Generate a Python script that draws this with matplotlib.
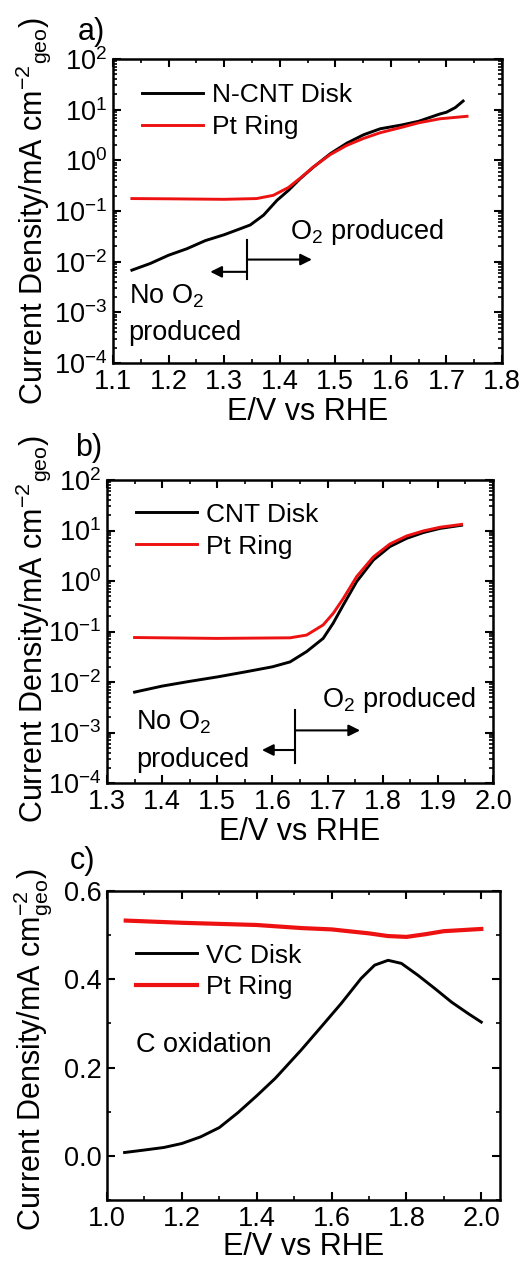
import numpy as np
import matplotlib
matplotlib.use("Agg")
import matplotlib.pyplot as plt
from matplotlib.ticker import LogLocator, NullFormatter, MultipleLocator

plt.rcParams['font.family'] = ['Liberation Sans', 'DejaVu Sans']
plt.rcParams['mathtext.fontset'] = 'custom'
plt.rcParams['mathtext.rm'] = 'Liberation Sans'
plt.rcParams['mathtext.it'] = 'Liberation Sans:italic'
plt.rcParams['mathtext.default'] = 'regular'

# panel a) N-CNT disk / Pt ring, log scale
a_disk_E = [1.134, 1.167, 1.2, 1.233, 1.266, 1.3, 1.325, 1.347, 1.371, 1.395, 1.416,
            1.437, 1.461, 1.491, 1.521, 1.551, 1.581, 1.62, 1.65, 1.688, 1.70, 1.716, 1.73]
a_disk_j = [0.0068, 0.0092, 0.0134, 0.018, 0.026, 0.034, 0.043, 0.053, 0.083, 0.162, 0.257,
            0.436, 0.74, 1.35, 2.19, 3.2, 4.2, 5.0, 5.9, 8.2, 8.9, 11.0, 14.8]
a_ring_E = [1.134, 1.2, 1.3, 1.3585, 1.3885, 1.4155, 1.4395, 1.4605, 1.4905, 1.5205,
            1.5505, 1.5805, 1.62, 1.65, 1.688, 1.737]
a_ring_j = [0.176, 0.174, 0.17, 0.176, 0.204, 0.29, 0.47, 0.74, 1.29, 1.97,
            2.7, 3.5, 4.5, 5.5, 6.6, 7.4]

# panel b) CNT disk / Pt ring, log scale
b_disk_E = [1.35, 1.4, 1.45, 1.5, 1.55, 1.6, 1.632, 1.662, 1.692, 1.710, 1.7285,
            1.7527, 1.783, 1.813, 1.8435, 1.8736, 1.904, 1.943]
b_disk_j = [0.0063, 0.0083, 0.0103, 0.0126, 0.0158, 0.020, 0.025, 0.04, 0.073, 0.145, 0.335,
            0.97, 2.6, 4.8, 7.0, 9.1, 11.0, 12.7]
b_ring_E = [1.35, 1.5, 1.632, 1.662, 1.692, 1.7104, 1.7285, 1.7527, 1.783, 1.813,
            1.8435, 1.8736, 1.904, 1.943]
b_ring_j = [0.076, 0.073, 0.075, 0.085, 0.135, 0.23, 0.45, 1.22, 3.0, 5.4,
            7.8, 9.8, 11.6, 13.2]

# panel c) VC disk / Pt ring, linear scale
c_disk_E = [1.047, 1.098, 1.152, 1.2, 1.25, 1.3, 1.35, 1.4, 1.45, 1.518, 1.572, 1.6255,
            1.679, 1.715, 1.751, 1.7866, 1.831, 1.876, 1.921, 1.9656, 2.0]
c_disk_j = [0.0076, 0.013, 0.019, 0.028, 0.043, 0.064, 0.098, 0.136, 0.176, 0.239, 0.292, 0.345,
            0.402, 0.432, 0.443, 0.436, 0.409, 0.379, 0.348, 0.322, 0.303]
c_ring_E = [1.05, 1.2, 1.4, 1.52, 1.6, 1.7, 1.75, 1.8, 1.85, 1.9, 2.0]
c_ring_j = [0.533, 0.528, 0.523, 0.516, 0.513, 0.504, 0.498, 0.496, 0.502, 0.509, 0.514]

onset_a = 1.341
onset_b = 1.641

ylab_log = r'Current Density/mA cm$^{-2}$$_{geo}$)'
ylab_lin = r'Current Density/mA cm$^{-2}_{geo}$)'

fig = plt.figure(figsize=(5.25, 12.64), dpi=100)
W, H = 525, 1264


def px_axes(l, r, t, b):
    return fig.add_axes([l / W, 1 - b / H, (r - l) / W, (b - t) / H])


def style(ax):
    ax.tick_params(which='both', direction='in', top=True, right=True, labelsize=19.5, pad=4)
    ax.tick_params(which='major', length=6, width=1.5)
    ax.tick_params(which='minor', length=3, width=1.2)
    for s in ax.spines.values():
        s.set_linewidth(1.8)


def log_style(ax):
    ax.set_yscale('log')
    ax.set_ylim(1e-4, 1e2)
    ax.yaxis.set_major_locator(LogLocator(base=10, numticks=10))
    ax.yaxis.set_minor_locator(LogLocator(base=10, subs=np.arange(2, 10), numticks=10))
    ax.yaxis.set_minor_formatter(NullFormatter())


def arrow(ax, x0, x1, y):
    ax.annotate('', xy=(x1, y), xytext=(x0, y),
                arrowprops=dict(arrowstyle='-|>', color='black', lw=1.5, mutation_scale=17,
                                shrinkA=0, shrinkB=0))


leg_kw = dict(loc='upper left', frameon=False, fontsize=19, handlelength=2.3,
              handletextpad=0.35, labelspacing=0.3, borderpad=0, borderaxespad=0)

axa = px_axes(113, 502, 59, 363)
axb = px_axes(107, 493, 480, 783)
axc = px_axes(107, 500, 891, 1200)

# ---- a)
axa.plot(a_disk_E, a_disk_j, color='black', lw=2.1, label='N-CNT Disk')
axa.plot(a_ring_E, a_ring_j, color='#ee1111', lw=2.1, label='Pt Ring')
log_style(axa)
axa.set_xlim(1.1, 1.8)
axa.xaxis.set_major_locator(MultipleLocator(0.1))
axa.xaxis.set_minor_locator(MultipleLocator(0.05))
style(axa)
axa.plot([onset_a, onset_a], [0.0045, 0.027], color='black', lw=1.5)
arrow(axa, onset_a, 1.458, 0.011)
arrow(axa, onset_a, 1.275, 0.0063)
axa.text(0.455, 0.43, r'O$_2$ produced', transform=axa.transAxes, fontsize=19.5, va='center')
axa.text(0.04, 0.22, r'No O$_2$', transform=axa.transAxes, fontsize=19.5, va='center')
axa.text(0.04, 0.10, 'produced', transform=axa.transAxes, fontsize=19.5, va='center')
axa.legend(bbox_to_anchor=(0.075, 0.92), **leg_kw)
axa.set_xlabel('E/V vs RHE', fontsize=22, labelpad=2)

# ---- b)
axb.plot(b_disk_E, b_disk_j, color='black', lw=2.1, label='CNT Disk')
axb.plot(b_ring_E, b_ring_j, color='#ee1111', lw=2.1, label='Pt Ring')
log_style(axb)
axb.set_xlim(1.3, 2.0)
axb.xaxis.set_major_locator(MultipleLocator(0.1))
axb.xaxis.set_minor_locator(MultipleLocator(0.05))
style(axb)
axb.plot([onset_b, onset_b], [0.00025, 0.0028], color='black', lw=1.5)
arrow(axb, onset_b, 1.759, 0.0011)
arrow(axb, onset_b, 1.581, 0.00045)
axb.text(0.558, 0.275, r'O$_2$ produced', transform=axb.transAxes, fontsize=19.5, va='center')
axb.text(0.075, 0.2, r'No O$_2$', transform=axb.transAxes, fontsize=19.5, va='center')
axb.text(0.075, 0.075, 'produced', transform=axb.transAxes, fontsize=19.5, va='center')
axb.legend(bbox_to_anchor=(0.075, 0.925), **leg_kw)
axb.set_xlabel('E/V vs RHE', fontsize=22, labelpad=2)

# ---- c)
axc.plot(c_disk_E, c_disk_j, color='black', lw=2.1, label='VC Disk')
axc.plot(c_ring_E, c_ring_j, color='#ee1111', lw=3, label='Pt Ring')
axc.set_xlim(1.0, 2.05)
axc.set_ylim(-0.1, 0.6)
axc.xaxis.set_major_locator(MultipleLocator(0.2))
axc.xaxis.set_minor_locator(MultipleLocator(0.1))
axc.yaxis.set_major_locator(MultipleLocator(0.2))
axc.yaxis.set_minor_locator(MultipleLocator(0.1))
axc.xaxis.set_major_formatter(plt.FormatStrFormatter('%.1f'))
axc.yaxis.set_major_formatter(plt.FormatStrFormatter('%.1f'))
style(axc)
axc.text(0.075, 0.5, 'C oxidation', transform=axc.transAxes, fontsize=19.5, va='center')
axc.legend(bbox_to_anchor=(0.074, 0.83), **leg_kw)
axc.set_xlabel('E/V vs RHE', fontsize=22, labelpad=0)

# y labels and panel letters
fig.text(33 / W, 1 - 211 / H, ylab_log, rotation=90, ha='center', va='center', fontsize=22)
fig.text(33 / W, 1 - 629 / H, ylab_log, rotation=90, ha='center', va='center', fontsize=22)
fig.text(33 / W, 1 - 1050 / H, ylab_lin, rotation=90, ha='center', va='center', fontsize=22)
fig.text(78 / W, 1 - 40 / H, 'a)', fontsize=22, va='baseline')
fig.text(75 / W, 1 - 456 / H, 'b)', fontsize=22, va='baseline')
fig.text(70 / W, 1 - 869 / H, 'c)', fontsize=22, va='baseline')

fig.savefig('out.png', dpi=100)
